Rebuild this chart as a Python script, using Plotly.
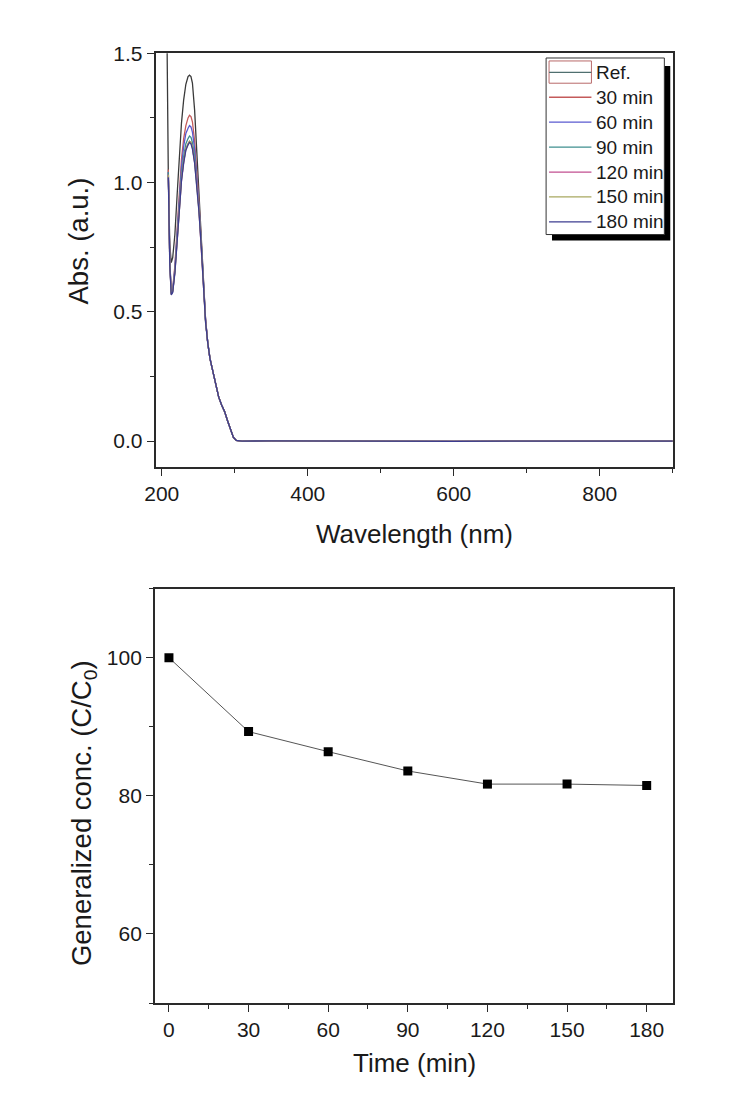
import plotly.graph_objects as go

# ---------------- data ----------------
wavelength = [205, 207, 209, 211, 213, 215, 218, 221, 224, 227, 230, 233, 236, 238, 240,
              242, 245, 248, 251, 254, 257, 260, 263, 266, 270, 274, 278, 282, 286, 290,
              294, 298, 302, 310, 350, 400, 500, 600, 700, 800, 900]

tail = [0.38, 0.32, 0.27, 0.22, 0.17, 0.14, 0.115, 0.08, 0.05, 0.015, 0.003, 0.0,
        0.001, 0.0, 0.0, -0.001, 0.0, 0.0, 0.0]

abs_ref = [2.2, 1.62, 1.02, 0.76, 0.69, 0.71, 0.80, 0.95, 1.10, 1.23, 1.32, 1.38, 1.41, 1.415, 1.41,
           1.385, 1.28, 1.12, 0.95, 0.80, 0.62, 0.47] + tail
abs_30 = [None, None, 1.05, 0.70, 0.575, 0.59, 0.68, 0.82, 0.97, 1.09, 1.17, 1.22, 1.25, 1.26, 1.255,
          1.235, 1.16, 1.05, 0.92, 0.78, 0.61, 0.47] + tail
abs_60 = [None, None, 1.04, 0.70, 0.572, 0.585, 0.67, 0.81, 0.95, 1.06, 1.14, 1.19, 1.21, 1.22, 1.215,
          1.195, 1.13, 1.03, 0.91, 0.77, 0.61, 0.47] + tail
abs_90 = [None, None, 1.04, 0.69, 0.57, 0.58, 0.66, 0.79, 0.92, 1.03, 1.10, 1.15, 1.17, 1.18, 1.175,
          1.155, 1.10, 1.01, 0.90, 0.77, 0.60, 0.465] + tail
abs_120 = [None, None, 1.03, 0.69, 0.568, 0.578, 0.655, 0.78, 0.91, 1.01, 1.08, 1.13, 1.15, 1.16, 1.155,
           1.135, 1.08, 1.00, 0.89, 0.76, 0.60, 0.465] + tail
abs_150 = [None, None, 1.03, 0.69, 0.568, 0.578, 0.655, 0.78, 0.91, 1.01, 1.08, 1.13, 1.15, 1.16, 1.155,
           1.135, 1.08, 0.995, 0.89, 0.76, 0.60, 0.46] + tail
abs_180 = [None, None, 1.02, 0.68, 0.565, 0.575, 0.65, 0.775, 0.905, 1.005, 1.075, 1.125, 1.145, 1.155, 1.15,
           1.13, 1.075, 0.99, 0.885, 0.755, 0.595, 0.46] + tail

series_names = ["Ref.", "30 min", "60 min", "90 min", "120 min", "150 min", "180 min"]
series_values = [abs_ref, abs_30, abs_60, abs_90, abs_120, abs_150, abs_180]
series_colors = ["#3a3a3a", "#c45a5a", "#5a5ad0", "#3f8f8f", "#c24f90", "#a8a860", "#3c3c90"]

time_min = [0, 30, 60, 90, 120, 150, 180]
conc = [100, 89.3, 86.4, 83.6, 81.7, 81.7, 81.5]

W, H = 756, 1099
FONT = "Liberation Sans, Arial, sans-serif"
INK = "#1a1a1a"

def px_x(x):
    return x / W

def px_y(y):
    return 1 - y / H

fig = go.Figure()

for name, vals, col in zip(series_names, series_values, series_colors):
    fig.add_trace(go.Scatter(x=wavelength, y=vals, mode="lines", name=name,
                             line=dict(color=col, width=1.3), connectgaps=False,
                             showlegend=False, xaxis="x", yaxis="y"))

fig.add_trace(go.Scatter(x=time_min, y=conc, mode="lines+markers",
                         line=dict(color="#555555", width=1),
                         marker=dict(symbol="square", size=9, color="black"),
                         showlegend=False, xaxis="x2", yaxis="y2"))

axis_common = dict(showline=True, linecolor="#2a2a2a", linewidth=1.6, mirror=True,
                   ticks="outside", ticklen=7, tickwidth=1.4, tickcolor="#2a2a2a",
                   showgrid=False, zeroline=False,
                   tickfont=dict(family=FONT, size=21, color=INK))

xdom = [px_x(146.7), px_x(671.5)]

fig.update_layout(
    width=W, height=H,
    margin=dict(l=0, r=0, t=0, b=0),
    paper_bgcolor="white", plot_bgcolor="white",
    font=dict(family=FONT, color=INK),
    xaxis=dict(domain=xdom, anchor="y", range=[191.5, 900], dtick=200, tick0=200,
               minor=dict(ticks="outside", ticklen=4, dtick=100, tickcolor="#2a2a2a", tickwidth=1.2),
               **axis_common),
    yaxis=dict(domain=[px_y(460), px_y(41.7)], anchor="x", range=[-0.1, 1.5], dtick=0.5,
               tickformat=".1f",
               minor=dict(ticks="outside", ticklen=4, dtick=0.25, tickcolor="#2a2a2a", tickwidth=1.2),
               **axis_common),
    xaxis2=dict(domain=[px_x(146), px_x(672)], anchor="y2", range=[-5.3, 190], dtick=30, tick0=0,
                minor=dict(ticks="outside", ticklen=4, dtick=15, tickcolor="#2a2a2a", tickwidth=1.2),
                **axis_common),
    yaxis2=dict(domain=[px_y(1002), px_y(583)], anchor="x2", range=[50, 110], dtick=20, tick0=0,
                minor=dict(ticks="outside", ticklen=4, dtick=10, tickcolor="#2a2a2a", tickwidth=1.2),
                **axis_common),
)

# axis titles
xt_font = dict(family=FONT, size=26, color=INK)
yt_font = dict(family=FONT, size=27.5, color=INK)
annots = [
    dict(text="Wavelength (nm)", x=px_x(409), y=px_y(528), font=xt_font),
    dict(text="Abs. (a.u.)", x=px_x(68), y=px_y(232), textangle=-90, font=yt_font),
    dict(text="Time (min)", x=px_x(409), y=px_y(1063), font=xt_font),
    dict(text="Generalized conc. (C/C<sub>0</sub>)", x=px_x(73), y=px_y(810), textangle=-90, font=yt_font),
]
for a in annots:
    fig.add_annotation(xref="paper", yref="paper", showarrow=False,
                       xanchor="center", yanchor="middle", **a)

# legend box (drawn manually, Origin style with drop shadow)
lx0, ly0, lx1, ly1 = 543, 46.5, 663, 225
fig.add_shape(type="rect", xref="paper", yref="paper",
              x0=px_x(lx0 + 6), x1=px_x(lx1 + 6), y0=px_y(ly1 + 6), y1=px_y(ly0 + 8),
              fillcolor="black", line=dict(width=0), layer="above")
fig.add_shape(type="rect", xref="paper", yref="paper",
              x0=px_x(lx0), x1=px_x(lx1), y0=px_y(ly1), y1=px_y(ly0),
              fillcolor="white", line=dict(color="#333333", width=1), layer="above")

row_y0, row_dy = 61, 25.2
for i, (name, col) in enumerate(zip(series_names, series_colors)):
    yy = row_y0 + i * row_dy
    if i == 0:
        fig.add_shape(type="rect", xref="paper", yref="paper",
                      x0=px_x(546), x1=px_x(589), y0=px_y(72), y1=px_y(49.5),
                      fillcolor="white", line=dict(color="#b86a6a", width=1), layer="above")
        fig.add_shape(type="line", xref="paper", yref="paper",
                      x0=px_x(546), x1=px_x(589), y0=px_y(yy), y1=px_y(yy),
                      line=dict(color="#4f6f6f", width=1.2), layer="above")
    else:
        fig.add_shape(type="line", xref="paper", yref="paper",
                      x0=px_x(546), x1=px_x(589), y0=px_y(yy), y1=px_y(yy),
                      line=dict(color=col, width=1.3), layer="above")
    fig.add_annotation(xref="paper", yref="paper", showarrow=False, text=name,
                       x=px_x(592), y=px_y(yy), xanchor="left", yanchor="middle",
                       font=dict(family=FONT, size=19, color=INK))

fig.write_html("out.html",
               config={"displayModeBar": False},
               post_script="document.body.style.margin='0';document.body.style.padding='0';")
